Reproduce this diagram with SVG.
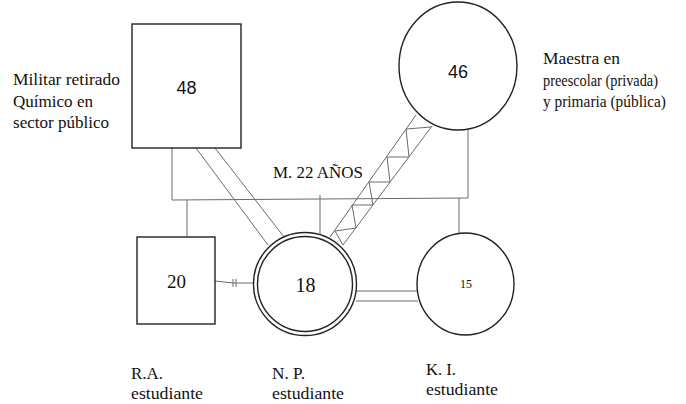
<svg xmlns="http://www.w3.org/2000/svg" width="686" height="404" viewBox="0 0 686 404">
<style>
.node{fill:#fff;stroke:#222;stroke-width:1.4}
.ln{fill:none;stroke:#6a6a6a;stroke-width:1}
</style>
<rect width="686" height="404" fill="#fff"/>
<g id="connectors">
<polyline class="ln" points="172,148 172,200 468,198 468,130"/>
<line class="ln" x1="187" y1="200" x2="187" y2="237"/>
<line class="ln" x1="320" y1="195" x2="320" y2="235"/>
<line class="ln" x1="459" y1="198" x2="459" y2="233"/>
<line class="ln" x1="196" y1="148" x2="268" y2="245"/>
<line class="ln" x1="215" y1="148" x2="284" y2="237"/>
<line class="ln" x1="416" y1="115" x2="330" y2="237"/>
<line class="ln" x1="432" y1="126" x2="343" y2="245"/>
<polyline class="ln" points="431,127 406,129 409,157 387,157 390,182 369,182 373,205 352,205 356,228 335,231 343,245"/>
<line class="ln" x1="356" y1="291" x2="418" y2="291"/>
<line class="ln" x1="356" y1="301" x2="418" y2="301"/>
<polyline class="ln" points="215,281 233,283 255,283"/>
<line class="ln" x1="233" y1="279" x2="233" y2="287"/>
<line class="ln" x1="236" y1="279" x2="236" y2="287"/>
</g>
<g font-family="'Liberation Serif', 'Times New Roman', serif" fill="#111" font-size="17">
<g id="n48">
<rect class="node" x="132" y="24" width="109" height="124"/>
<text x="186.5" y="94" font-size="18" text-anchor="middle" font-family="'Liberation Sans', Arial, sans-serif">48</text>
<text x="13" y="85" textLength="107" lengthAdjust="spacingAndGlyphs">Militar retirado</text>
<text x="13" y="107" textLength="80" lengthAdjust="spacingAndGlyphs">Químico en</text>
<text x="13" y="128" textLength="96" lengthAdjust="spacingAndGlyphs">sector público</text>
</g>
<g id="n46">
<ellipse class="node" cx="458" cy="66" rx="59" ry="64"/>
<text x="458" y="78" font-size="18" text-anchor="middle" font-family="'Liberation Sans', Arial, sans-serif">46</text>
<text x="543" y="64" textLength="77" lengthAdjust="spacingAndGlyphs">Maestra en</text>
<text x="543" y="86" textLength="115" lengthAdjust="spacingAndGlyphs">preescolar (privada)</text>
<text x="543" y="107" textLength="123" lengthAdjust="spacingAndGlyphs">y primaria (pública)</text>
</g>
<g id="n20">
<rect class="node" x="137" y="237" width="78" height="87"/>
<text x="176.5" y="288" font-size="19" text-anchor="middle">20</text>
<text x="131" y="379" textLength="32" lengthAdjust="spacingAndGlyphs">R.A.</text>
<text x="131" y="399" textLength="72" lengthAdjust="spacingAndGlyphs">estudiante</text>
</g>
<g id="n18">
<circle class="node" cx="305" cy="284" r="51.5"/>
<circle class="node" cx="305" cy="284" r="47.5"/>
<text x="305.5" y="292" font-size="20" text-anchor="middle">18</text>
<text x="272" y="379" textLength="33" lengthAdjust="spacingAndGlyphs">N. P.</text>
<text x="272" y="399" textLength="72" lengthAdjust="spacingAndGlyphs">estudiante</text>
</g>
<g id="n15">
<ellipse class="node" cx="465.5" cy="284" rx="48.5" ry="51"/>
<text x="466" y="288" font-size="12" text-anchor="middle">15</text>
<text x="426" y="375" textLength="30" lengthAdjust="spacingAndGlyphs">K. I.</text>
<text x="426" y="395" textLength="72" lengthAdjust="spacingAndGlyphs">estudiante</text>
</g>
<g id="marriage-label">
<text x="273" y="178" textLength="90" lengthAdjust="spacingAndGlyphs">M. 22 AÑOS</text>
</g>
</g>
</svg>
